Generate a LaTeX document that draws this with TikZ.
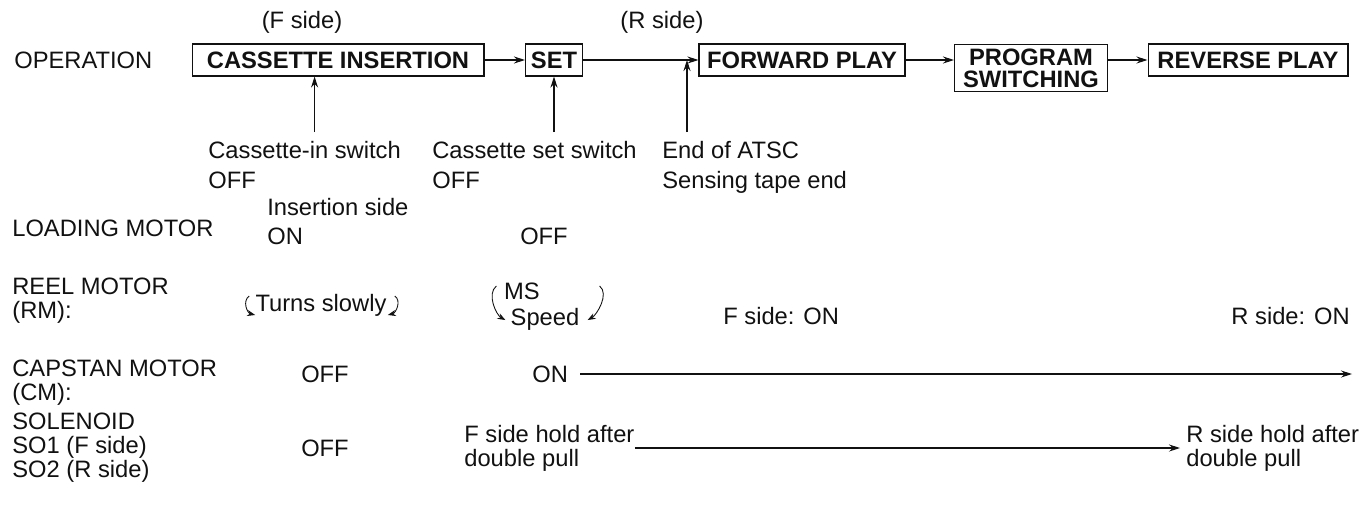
\documentclass[tikz,border=0pt]{standalone}
\usepackage{fontspec}
\setmainfont{Liberation Sans}
\usetikzlibrary{arrows.meta,positioning,calc}
\definecolor{ink}{HTML}{111111}
\tikzset{
  block/.style={draw=ink, line width=0.6pt, inner sep=0pt, minimum height=0.64cm,
                font=\fontsize{13.5}{12.5}\selectfont\bfseries, align=center, text=ink},
  arrow/.style={-{Stealth[length=2.2mm,width=1.4mm]}, line width=0.6pt, draw=ink},
  note/.style={font=\fontsize{13.5}{17}\selectfont, inner sep=0pt, align=left, text=ink},
  tight/.style={note, font=\fontsize{13.5}{13.6}\selectfont},
  rowlab/.style={tight, anchor=west},
  curl/.style={-{Stealth[length=1.6mm,width=1.2mm]}, line width=0.5pt, draw=ink}
}

\begin{document}
\begin{tikzpicture}[x=0.02cm,y=-0.02cm]
  \fill[white] (0,0) rectangle (1367,508);
  \useasboundingbox (0,0) rectangle (1367,508);
  % operation sequence
  \node[note] (fside) at (302,22) {(F side)};
  \node[note] (rside) at (662,22) {(R side)};
  \node[rowlab] (oper) at (14,60) {OPERATION};
  \node[block,minimum width=5.84cm] (ins) at (338,60) {CASSETTE INSERTION};
  \node[block,minimum width=1.14cm] (set) at (554,60) {SET};
  \node[block,minimum width=4.12cm] (fwd) at (802,60) {FORWARD PLAY};
  \node[block,minimum width=3.06cm,minimum height=0.94cm,anchor=north] (prog) at (1031,44) {PROGRAM\\SWITCHING};
  \node[block,minimum width=4.0cm] (rev) at (1248,60) {REVERSE PLAY};
  \draw[arrow] (ins) -- (set);
  \draw[arrow] (set.east) -- (fwd.west);
  \draw[arrow] (fwd.east) -- (fwd.east -| prog.west);
  \draw[arrow] (prog.east |- rev.west) -- (rev.west);
  % switch events
  \node[note,anchor=north west] (inlab) at (208,141) {Cassette-in switch\\OFF};
  \node[note,anchor=north west] (setlab) at (432,141) {Cassette set switch\\OFF};
  \node[note,anchor=north west] (atsc) at (662,141) {End of ATSC\\Sensing tape end};
  \draw[arrow] ([xshift=0.2cm,yshift=0.18cm]inlab.north) -- ([xshift=0.2cm]inlab.north |- ins.south);
  \draw[arrow] ([yshift=0.18cm]setlab.north -| set.south) -- (set.south);
  \draw[arrow] ([xshift=0.5cm,yshift=0.18cm]atsc.north west) -- ([xshift=0.5cm]atsc.north west |- set.east);
  % loading motor
  \node[rowlab] (load) at (12,228) {LOADING MOTOR};
  \node[note,anchor=west] (insside) at (267,207) {Insertion side};
  \node[note,anchor=west] (loadon) at (267,236) {ON};
  \node[note] (loadoff) at (544,236) {OFF};
  % reel motor
  \node[rowlab] (reel) at (12,301) {REEL MOTOR\\(RM):};
  \node[note] (turns) at (321,305) {Turns slowly};
  \draw[curl] ($(turns.west)+(-6,-9)$) .. controls +(-7,5) and +(-8,-2) .. ($(turns.west)+(0,10)$);
  \draw[curl] ($(turns.east)+(8,-9)$) .. controls +(7,5) and +(8,-2) .. ($(turns.east)+(1,10)$);
  \node[note] (ms) at (522,291) {MS};
  \node[note] (speed) at (545,319) {Speed};
  \draw[curl] ($(speed.west)+(-14,-33)$) .. controls +(-10,8) and +(-9,-5) .. ($(speed.west)+(-5,1)$);
  \draw[curl] ($(speed.east)+(20,-33)$) .. controls +(10,8) and +(9,-5) .. ($(speed.east)+(8,1)$);
  \node[note,anchor=west] (fon) at (723,316) {F side: ON};
  \node[note,anchor=east] (ron) at (1350,316) {R side: ON};
  % capstan motor
  \node[rowlab] (cap) at (12,383) {CAPSTAN MOTOR\\(CM):};
  \node[note] (capoff) at (325,374) {OFF};
  \node[note,anchor=west] (capon) at (532,374) {ON};
  \coordinate (capend) at (1352,374);
  \draw[arrow] ([xshift=0.24cm]capon.east) -- (capend);
  % solenoids
  \node[rowlab] (sol) at (12,448) {SOLENOID\\SO1 (F side)\\SO2 (R side)};
  \node[note] (soloff) at (325,448) {OFF};
  \node[tight,anchor=west] (fhold) at (464,448) {F side hold after\\double pull};
  \node[tight,anchor=west] (rhold) at (1186,448) {R side hold after\\double pull};
  \draw[arrow] (fhold.east) -- ([xshift=-0.12cm]rhold.west);
\end{tikzpicture}
\end{document}
